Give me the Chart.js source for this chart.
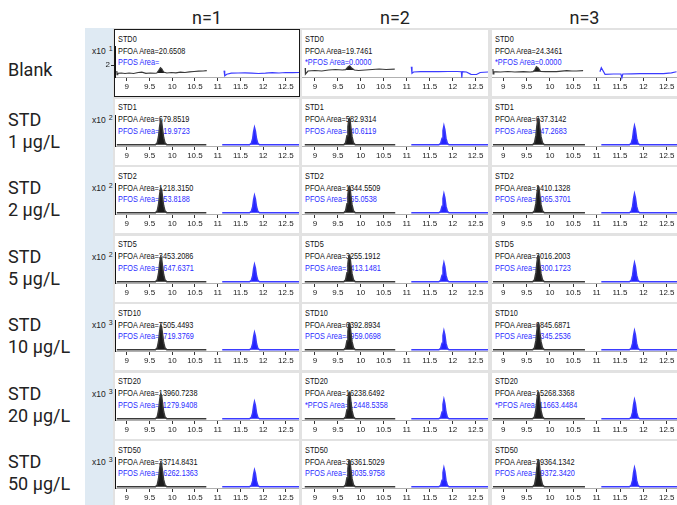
<!DOCTYPE html>
<html><head><meta charset="utf-8">
<script src="https://cdn.jsdelivr.net/npm/chart.js@4/dist/chart.umd.min.js"></script>
<style>
html,body{margin:0;padding:0;background:#fff}
body{position:relative;width:677px;height:505px;overflow:hidden;font-family:Roboto,'Liberation Sans',sans-serif}
.a{position:absolute}
.hdr{font-size:18px;line-height:24px;text-align:center;color:#222}
.rl{font-size:18px;line-height:22px;color:#222;white-space:nowrap}
.panel{background:#fff}
.pt{position:absolute;left:3px;font-size:9.5px;line-height:11px;font-family:'Liberation Sans',Arial,sans-serif;transform:scaleX(.77);transform-origin:0 50%;white-space:nowrap;color:#111}
.pfos{color:#2b2bff}
.ex{font-family:'Liberation Sans',Arial,sans-serif;font-size:8.5px;color:#222;white-space:nowrap;line-height:10px}
canvas{position:absolute}
</style></head>
<body>
<script>
// ---------------- data ----------------
const columnTitles = ['n=1', 'n=2', 'n=3'];
const rowTitles = [['Blank'], ['STD', '1 μg/L'], ['STD', '2 μg/L'], ['STD', '5 μg/L'], ['STD', '10 μg/L'], ['STD', '20 μg/L'], ['STD', '50 μg/L']];
const sampleNames = ['STD0', 'STD1', 'STD2', 'STD5', 'STD10', 'STD20', 'STD50'];
const yExponent = ['1', '2', '2', '2', '3', '3', '3'];
const pfoaArea = [
  ['20.6508', '19.7461', '24.3461'],
  ['679.8519', '582.9314', '637.3142'],
  ['1218.3150', '1344.5509', '1410.1328'],
  ['3453.2086', '3255.1912', '3016.2003'],
  ['7505.4493', '6392.8934', '6845.6871'],
  ['13960.7238', '16238.6492', '15268.3368'],
  ['33714.8431', '36361.5029', '39364.1342']
];
const pfosArea = [
  ['', '0.0000', '0.0000'],
  ['419.9723', '440.6119', '447.2683'],
  ['953.8188', '965.0538', '1065.3701'],
  ['2647.6371', '2413.1481', '2300.1723'],
  ['5719.3769', '4959.0698', '5345.2536'],
  ['11279.9408', '12448.5358', '11663.4484'],
  ['26262.1363', '28035.9758', '29372.3420']
];
const pfosManual = [[0, 1, 1], [0, 0, 0], [0, 0, 0], [0, 0, 0], [0, 0, 0], [0, 1, 1], [0, 0, 0]];
const xTickValues = [9, 9.5, 10, 10.5, 11, 11.5, 12, 12.5];
const xMin = [8.74, 8.72, 8.76];
const xMax = [12.79, 12.77, 12.72];

// retention-time windows of the two traces (min)
const pfoaWindow = [8.78, 10.75];
const pfosWindow = [11.1, 12.8];
// peak profiles read from the standards (relative height)
const pfoaPeakX = [9.63, 9.67, 9.70, 9.72, 9.74, 9.75, 9.765, 9.785, 9.81, 9.84, 9.88];
const pfoaPeakShape = [0, 0.08, 0.35, 0.7, 0.97, 1, 0.95, 0.65, 0.3, 0.08, 0];
const pfosPeakX = [11.70, 11.74, 11.77, 11.79, 11.81, 11.83, 11.855, 11.885, 11.92];
const pfosPeakShape = [0, 0.08, 0.35, 0.75, 1, 0.8, 0.35, 0.08, 0];
// peak heights of the STD rows (% of full scale), rows STD1..STD50, columns n=1..3
const pfoaPeakHeight = [[82, 88, 88], [82, 88, 88], [82, 88, 88], [82, 88, 88], [82, 88, 89], [80, 88, 89]];
const pfosPeakHeight = [[58, 64, 64], [58, 64, 64], [58, 64, 64], [58, 64, 64], [57, 65, 64], [56, 64, 64]];

// blank traces (x10^1 counts)
const blankPfoa = [
  [[8.78,1.81],[8.785,1.70],[8.80,1.74],[8.88,1.75],[8.96,1.734],[9.05,1.75],[9.15,1.734],[9.25,1.765],[9.33,1.775],[9.42,1.74],[9.52,1.75],[9.62,1.743],[9.66,1.75],[9.70,1.828],[9.74,1.915],[9.77,1.875],[9.81,1.781],[9.88,1.75],[9.98,1.765],[10.08,1.756],[10.18,1.775],[10.28,1.765],[10.38,1.787],[10.48,1.797],[10.58,1.806],[10.68,1.812],[10.76,1.822]],
  [[8.79,1.906],[8.795,1.718],[8.85,1.812],[9.0,1.828],[9.15,1.812],[9.3,1.844],[9.45,1.859],[9.6,1.844],[9.67,1.853],[9.72,1.937],[9.76,1.978],[9.8,1.906],[9.86,1.844],[9.95,1.828],[10.1,1.844],[10.25,1.859],[10.4,1.875],[10.55,1.859],[10.74,1.869]],
  [[8.78,1.875],[8.785,1.718],[8.8,1.79],[8.94,1.781],[9.1,1.797],[9.25,1.781],[9.43,1.79],[9.58,1.781],[9.64,1.79],[9.68,1.859],[9.71,1.947],[9.75,1.906],[9.80,1.797],[9.9,1.79],[10.02,1.797],[10.14,1.79],[10.25,1.806],[10.36,1.822],[10.47,1.812],[10.57,1.812],[10.71,1.822]]
];
const blankPfoaBump = [[9.66, 9.88, 1.75], [9.67, 9.86, 1.845], [9.64, 9.80, 1.79]];
const blankPfos = [
  [[11.14,1.822],[11.155,1.665],[11.2,1.712],[11.3,1.744],[11.45,1.75],[11.6,1.756],[11.75,1.744],[11.9,1.734],[12.05,1.744],[12.2,1.759],[12.35,1.75],[12.5,1.765],[12.65,1.762],[12.79,1.765]],
  [[11.1,1.947],[11.115,1.74],[11.15,1.781],[11.3,1.79],[11.5,1.797],[11.7,1.79],[11.9,1.797],[12.1,1.797],[12.19,1.79],[12.2,1.6],[12.21,1.79],[12.3,1.781],[12.4,1.709],[12.52,1.703],[12.6,1.765],[12.77,1.781]],
  [[11.07,1.79],[11.1,1.915],[11.18,1.709],[11.36,1.718],[11.52,1.718],[11.54,1.6],[11.56,1.718],[11.75,1.725],[11.93,1.728],[12.2,1.728],[12.43,1.728],[12.6,1.756],[12.71,1.79]]
];
const blankYRange = [1.625, 2.594];
const blankYTicks = [2];
const stdYRange = [-4, 100];

// ---------------- layout ----------------
const T0 = 30, RH = 68.5, PH = 66;
const colLeft = [115, 302, 492], colW = [184, 186, 185];
const PFOA_COLOR = '#3a3a3a', PFOA_FILL = '#1c1c1c', PFOS_COLOR = '#3b3bff', PFOS_FILL = '#2424ff';

function hasFont(name) {
  const c = document.createElement('canvas').getContext('2d');
  c.font = '20px monospace'; const a = c.measureText('10.5 Area=mmw').width;
  c.font = `20px "${name}", monospace`; const b = c.measureText('10.5 Area=mmw').width;
  return a !== b;
}
const narrow = hasFont('Liberation Sans Narrow');
const tickFont = narrow ? { family: '"Liberation Sans Narrow"', size: 9.5 } : { family: '"Liberation Sans"', size: 8 };

function el(cls, style, text) {
  const d = document.createElement('div');
  d.className = cls; Object.assign(d.style, style);
  if (text != null) d.textContent = text;
  document.body.appendChild(d); return d;
}

// backgrounds
el('a', { left: '85px', top: '28px', width: '28px', height: '477px', background: '#dfeaf3' });
el('a', { left: '113px', top: '28px', width: '564px', height: '477px', background: '#e2e2e2' });

columnTitles.forEach((t, c) => el('a hdr', { left: colLeft[c] + 'px', width: colW[c] + 'px', top: '6px' }, t));

rowTitles.forEach((lines, r) => {
  const T = T0 + r * RH;
  const d = el('a rl', { left: '8px', top: (T + (lines.length === 1 ? 29 : 10)) + 'px' });
  lines.forEach((ln, i) => { if (i) d.appendChild(document.createElement('br')); d.appendChild(document.createTextNode(ln)); });
  const ex = el('a ex', { left: '92px', top: (T + 16) + 'px' });
  ex.appendChild(document.createTextNode('x10'));
  const s = document.createElement('span');
  s.style.cssText = 'position:relative;top:-3px;margin-left:3px;font-size:7px';
  s.textContent = yExponent[r]; ex.appendChild(s);
});

function stdTrace(win, px, shape, h) {
  const pts = [{ x: win[0], y: 0 }];
  px.forEach((x, i) => pts.push({ x, y: shape[i] * h }));
  pts.push({ x: win[1], y: 0 });
  return pts;
}
const toXY = arr => arr.map(p => ({ x: p[0], y: p[1] }));

for (let r = 0; r < 7; r++) {
  for (let c = 0; c < 3; c++) {
    const T = T0 + r * RH;
    const p = el('a panel', { left: colLeft[c] + 'px', top: T + 'px', width: colW[c] + 'px', height: PH + 'px' });
    const t1 = document.createElement('div'); t1.className = 'pt'; t1.style.top = '2.5px'; t1.textContent = sampleNames[r]; p.appendChild(t1);
    const t2 = document.createElement('div'); t2.className = 'pt'; t2.style.top = '14.5px'; t2.textContent = 'PFOA Area=' + pfoaArea[r][c]; p.appendChild(t2);
    const t3 = document.createElement('div'); t3.className = 'pt pfos'; t3.style.top = '26px'; t3.textContent = (pfosManual[r][c] ? '*' : '') + 'PFOS Area=' + pfosArea[r][c]; p.appendChild(t3);

    let datasets, yr;
    if (r === 0) {
      yr = blankYRange;
      const bump = blankPfoaBump[c];
      datasets = [
        { data: toXY(blankPfoa[c]), borderColor: PFOA_COLOR, borderWidth: 1.2, fill: false, clip: 3 },
        { data: toXY(blankPfos[c]), borderColor: PFOS_COLOR, borderWidth: 1.2, fill: false, clip: 3 },
        { data: toXY(blankPfoa[c].filter(q => q[0] >= bump[0] && q[0] <= bump[1])), borderWidth: 0, borderColor: 'rgba(0,0,0,0)', backgroundColor: PFOA_FILL, fill: { value: bump[2] } }
      ];
    } else {
      yr = stdYRange;
      datasets = [
        { data: stdTrace(pfoaWindow, pfoaPeakX, pfoaPeakShape, pfoaPeakHeight[r - 1][c]), borderColor: PFOA_COLOR, borderWidth: 1.5, backgroundColor: PFOA_FILL, fill: 'origin' },
        { data: stdTrace(pfosWindow, pfosPeakX, pfosPeakShape, pfosPeakHeight[r - 1][c]), borderColor: PFOS_COLOR, borderWidth: 1.5, backgroundColor: PFOS_FILL, fill: 'origin' }
      ];
    }

    const extra = c === 0 ? 30 : 0;
    const cv = document.createElement('canvas');
    cv.width = colW[c] + extra; cv.height = PH;
    cv.style.left = (colLeft[c] - extra) + 'px'; cv.style.top = T + 'px';
    document.body.appendChild(cv);
    const showYTick = (r === 0 && c === 0);

    new Chart(cv, {
      type: 'line',
      data: { datasets },
      options: {
        responsive: false, animation: false, events: [],
        layout: { padding: { top: 16, left: 0, right: 0, bottom: 0 } },
        plugins: { legend: { display: false }, tooltip: { enabled: false }, title: { display: false } },
        elements: { point: { radius: 0 }, line: { tension: 0 } },
        scales: {
          x: {
            type: 'linear', min: xMin[c], max: xMax[c],
            afterBuildTicks: s => { s.ticks = xTickValues.map(v => ({ value: v })); },
            afterFit: s => { s.height = PH - 47; },
            ticks: { autoSkip: false, maxRotation: 0, padding: 1, color: '#222', font: tickFont, callback: v => String(v) },
            grid: { display: true, drawOnChartArea: false, drawTicks: true, tickLength: 4, tickColor: '#333', color: '#333' },
            border: { display: true, color: '#b0b0b0', width: 1 }
          },
          y: {
            display: c === 0, min: yr[0], max: yr[1],
            afterFit: s => { s.width = (c === 0) ? extra : 0; },
            afterBuildTicks: s => { s.ticks = showYTick ? blankYTicks.map(v => ({ value: v })) : []; },
            ticks: { display: showYTick, padding: 1, color: '#222', font: tickFont, callback: v => String(v) },
            grid: { display: showYTick, drawOnChartArea: false, drawTicks: true, tickLength: 4, tickColor: '#222' },
            border: { display: true, color: '#111', width: 1 }
          }
        }
      }
    });
  }
}
// selected panel frame
el('a', { left: (colLeft[0] - 1) + 'px', top: (T0 - 1) + 'px', width: colW[0] + 'px', height: PH + 'px', border: '1.5px solid #1a1a1a', pointerEvents: 'none' });
</script>
</body></html>
